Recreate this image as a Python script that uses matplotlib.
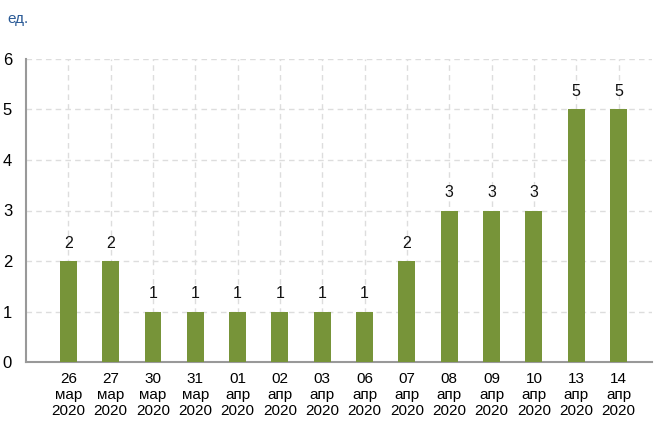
import matplotlib.pyplot as plt

dates = ["26\nмар\n2020", "27\nмар\n2020", "30\nмар\n2020", "31\nмар\n2020",
         "01\nапр\n2020", "02\nапр\n2020", "03\nапр\n2020", "06\nапр\n2020",
         "07\nапр\n2020", "08\nапр\n2020", "09\nапр\n2020", "10\nапр\n2020",
         "13\nапр\n2020", "14\nапр\n2020"]
values = [2, 2, 1, 1, 1, 1, 1, 1, 2, 3, 3, 3, 5, 5]

plt.rcParams['font.family'] = ['Liberation Sans', 'DejaVu Sans']

fig = plt.figure(figsize=(6.56, 4.21), dpi=100)
ax = fig.add_axes([0.0396, 0.14, 0.955, 0.72])

x = range(len(values))
ax.bar(x, values, width=0.4, color='#779439', zorder=3)
for i, v in enumerate(values):
    ax.text(i, v + 0.2, str(v), ha='center', va='bottom', fontsize=11.5, color='#111111')

ax.set_xlim(-1, 13.8)
ax.set_ylim(0, 6)
ax.set_xticks(list(x))
ax.set_xticklabels(dates, fontsize=11, linespacing=1.2)
ax.set_yticks(range(7))
ax.tick_params(axis='y', labelsize=12, length=0, pad=10)
ax.tick_params(axis='x', length=0, pad=7)
ax.grid(True, color='#dddddd', linestyle=(0, (4, 3)), linewidth=1, zorder=0)

for s in ['top', 'right']:
    ax.spines[s].set_visible(False)
ax.spines['left'].set_color('#999999')
ax.spines['bottom'].set_color('#999999')
ax.spines['left'].set_linewidth(1.5)
ax.spines['bottom'].set_linewidth(1.5)

fig.text(0.012, 0.955, "ед.", color='#2a5a96', fontsize=11, va='center')

fig.savefig('out.png', dpi=100)
